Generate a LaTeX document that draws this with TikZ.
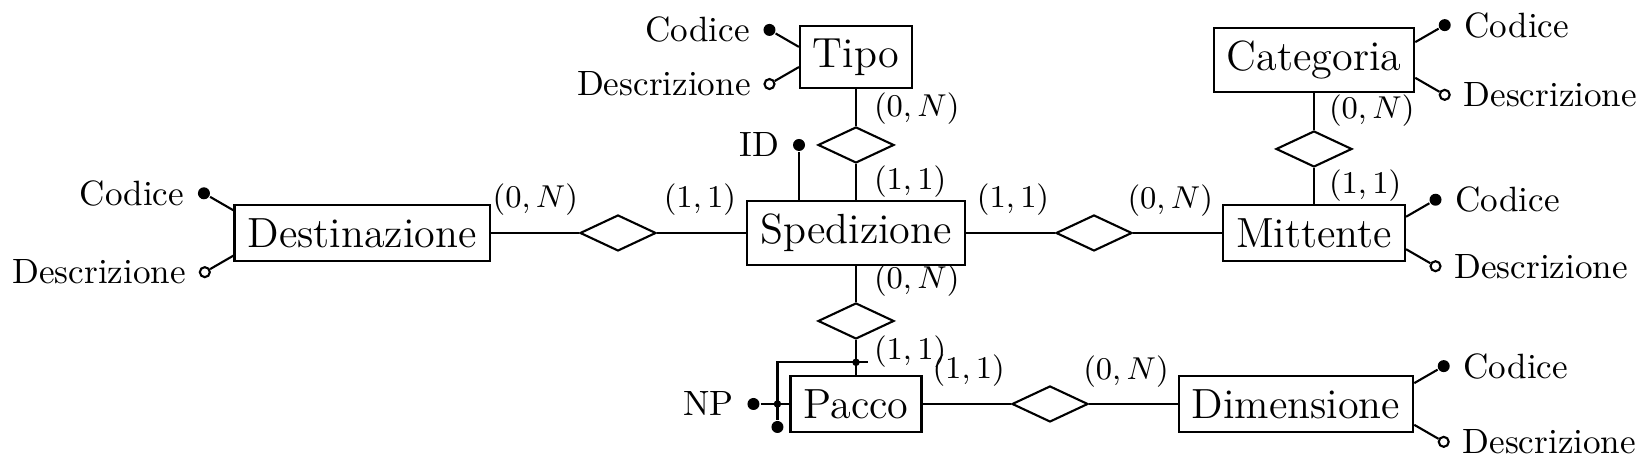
\documentclass[tikz,border=0pt]{standalone}
\usepackage{amsmath, amssymb}
\usepackage{tikz}
\usetikzlibrary{positioning, shapes.geometric}

\begin{document}
\begin{tikzpicture}[semithick,
  entity/.style={draw, font=\large, inner sep=3.7pt},
  relation/.style={draw, diamond, minimum width=0.76cm, minimum height=0.36cm, inner sep=0pt},
  keyattr/.style={circle, fill, inner sep=0pt, minimum size=0.12cm, label distance=-1pt},
  attr/.style={circle, draw, fill=white, inner sep=0pt, minimum size=0.1cm, label distance=-1pt},
  junction/.style={circle, fill, inner sep=0pt, minimum size=0.075cm},
  card/.style={font=\small, inner sep=0pt}]
\useasboundingbox (0,0) rectangle (16.48,4.69);

% entities
\node[entity] (spedizione) at (8.56,2.36) {Spedizione};
\node[entity] (tipo) at (8.56,4.12) {Tipo};
\node[entity] (destinazione) at (3.62,2.36) {Destinazione};
\node[entity] (mittente) at (13.14,2.36) {Mittente};
\node[entity] (categoria) at (13.14,4.09) {Categoria};
\node[entity] (pacco) at (8.56,0.65) {Pacco};
\node[entity] (dimensione) at (12.96,0.65) {Dimensione};

% relationships
\node[relation] (relTipo) at (8.56,3.24) {};
\node[relation] (relDest) at (6.18,2.36) {};
\node[relation] (relMitt) at (10.94,2.36) {};
\node[relation] (relCat) at (13.14,3.20) {};
\node[relation] (relPacco) at (8.56,1.48) {};
\node[relation] (relDim) at (10.50,0.65) {};

\draw (tipo) -- (relTipo) -- (spedizione);
\draw (destinazione) -- (relDest) -- (spedizione);
\draw (spedizione) -- (relMitt) -- (mittente);
\draw (categoria) -- (relCat) -- (mittente);
\draw (spedizione) -- (relPacco) -- (pacco);
\draw (pacco) -- (relDim) -- (dimensione);

% cardinalities
\node[card, anchor=west] (cDest) at ([xshift=0.01cm, yshift=0.05cm]destinazione.north east) {$(0, N)$};
\node[card, anchor=east] (cSpedW) at ([xshift=-0.09cm]spedizione.north west) {$(1, 1)$};
\node[card, anchor=west] (cSpedE) at ([xshift=0.10cm]spedizione.north east) {$(1, 1)$};
\node[card, anchor=east] (cMittW) at ([xshift=-0.08cm, yshift=0.035cm]mittente.north west) {$(0, N)$};
\node[card, anchor=west] (cTipo) at ([xshift=0.17cm, yshift=-0.19cm]tipo.south) {$(0, N)$};
\node[card, anchor=west] (cSpedN) at ([xshift=0.17cm, yshift=0.18cm]spedizione.north) {$(1, 1)$};
\node[card, anchor=west] (cSpedS) at ([xshift=0.17cm, yshift=-0.15cm]spedizione.south) {$(0, N)$};
\node[card, anchor=west] (cPaccoN) at ([xshift=0.17cm, yshift=0.24cm]pacco.north) {$(1, 1)$};
\node[card, anchor=west] (cPaccoE) at ([xshift=0.09cm, yshift=0.05cm]pacco.north east) {$(1, 1)$};
\node[card, anchor=east] (cDim) at ([xshift=-0.08cm, yshift=0.035cm]dimensione.north west) {$(0, N)$};
\node[card, anchor=west] (cCat) at ([xshift=0.14cm, yshift=-0.17cm]categoria.south) {$(0, N)$};
\node[card, anchor=west] (cMittN) at ([xshift=0.14cm, yshift=0.185cm]mittente.north) {$(1, 1)$};

% attributes
\node[keyattr, label=left:Codice] (tipoCod) at ([shift={(150:0.34)}]tipo.170) {};
\node[attr, label=left:Descrizione] (tipoDesc) at ([shift={(210:0.34)}]tipo.190) {};
\draw (tipo.170) -- (tipoCod);
\draw (tipo.190) -- (tipoDesc);

\node[keyattr, label=left:Codice] (destCod) at ([shift={(150:0.34)}]destinazione.170) {};
\node[attr, label=left:Descrizione] (destDesc) at ([shift={(210:0.33)}]destinazione.190) {};
\draw (destinazione.170) -- (destCod);
\draw (destinazione.190) -- (destDesc);

\node[keyattr, label=right:Codice] (catCod) at ([shift={(30:0.34)}]categoria.10) {};
\node[attr, label=right:Descrizione] (catDesc) at ([shift={(-30:0.34)}]categoria.-10) {};
\draw (categoria.10) -- (catCod);
\draw (categoria.-10) -- (catDesc);

\node[keyattr, label=right:Codice] (mittCod) at ([shift={(30:0.34)}]mittente.10) {};
\node[attr, label=right:Descrizione] (mittDesc) at ([shift={(-30:0.34)}]mittente.-10) {};
\draw (mittente.10) -- (mittCod);
\draw (mittente.-10) -- (mittDesc);

\node[keyattr, label=right:Codice] (dimCod) at ([shift={(30:0.34)}]dimensione.10) {};
\node[attr, label=right:Descrizione] (dimDesc) at ([shift={(-30:0.34)}]dimensione.-10) {};
\draw (dimensione.10) -- (dimCod);
\draw (dimensione.-10) -- (dimDesc);

\node[keyattr, label=left:ID] (spedId) at ([xshift=-0.57cm, yshift=0.55cm]spedizione.north) {};
\draw (spedId) -- (spedId |- spedizione.north);

% external identifier of Pacco
\node[keyattr, label=left:NP] (paccoNp) at ([xshift=-0.36cm]pacco.west) {};
\draw (paccoNp) -- (pacco.west);
\coordinate (jTop) at ([yshift=0.13cm]pacco.north);
\coordinate (jEnd) at ([xshift=0.12cm]jTop);
\node[junction] (jLeft) at ([xshift=-0.12cm]pacco.west) {};
\node[junction] (jMid) at (jTop) {};
\node[keyattr] (paccoExt) at ([yshift=-0.23cm]jLeft) {};
\draw (paccoExt) -- (jLeft |- jTop) -- (jEnd);
\end{tikzpicture}
\end{document}
